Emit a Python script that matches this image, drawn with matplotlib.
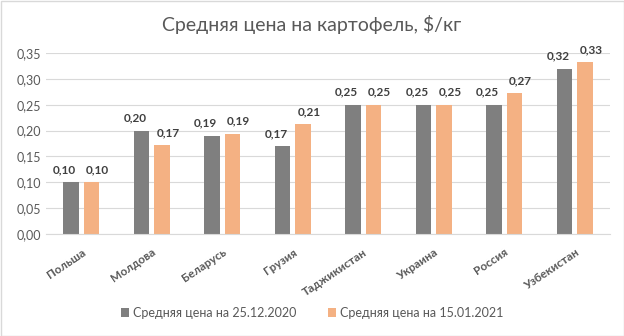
import matplotlib
matplotlib.use("Agg")
import matplotlib.pyplot as plt
import numpy as np
from matplotlib.patches import Rectangle

plt.rcParams['font.family'] = ['Lato', 'DejaVu Sans']

categories = ["Польша", "Молдова", "Беларусь", "Грузия", "Таджикистан", "Украина", "Россия", "Узбекистан"]
series1 = [0.10, 0.20, 0.19, 0.17, 0.25, 0.25, 0.25, 0.32]
series2 = [0.10, 0.172, 0.194, 0.213, 0.25, 0.25, 0.272, 0.333]
label1 = "Средняя цена на 25.12.2020"
label2 = "Средняя цена на 15.01.2021"
yticks = [0.0, 0.05, 0.10, 0.15, 0.20, 0.25, 0.30, 0.35]
title = "Средняя цена на картофель, $/кг"

c1 = "#7f7f7f"
c2 = "#f4b183"
txt = "#595959"

fig = plt.figure(figsize=(6.24, 3.36), dpi=100)
ax = fig.add_axes([46/624, 1-234/336, (610-46)/624, (234-53)/336])

x = np.arange(len(categories))
w = 0.22
off = 0.145
b1 = ax.bar(x - off, series1, w, color=c1, label=label1)
b2 = ax.bar(x + off, series2, w, color=c2, label=label2)

for bars, vals, dx in ((b1, series1, -4.5), (b2, series2, 4.5)):
    for r, v in zip(bars, vals):
        ax.annotate(f"{v:.2f}".replace(".", ","), (r.get_x() + r.get_width()/2, v),
                    xytext=(dx, 5), textcoords="offset points", ha="center", va="bottom",
                    fontsize=8.5, fontweight="bold", color="#404040")

ax.set_xlim(-0.5, len(categories) - 0.5)
ax.set_ylim(0, 0.35)
ax.set_yticks(yticks)
ax.set_yticklabels([f"{t:.2f}".replace(".", ",") for t in yticks], fontsize=9, color=txt)
ax.set_xticks(x)
ax.set_xticklabels(categories, rotation=34, ha="right", rotation_mode="anchor",
                   fontsize=8.5, fontweight="bold", color=txt)
ax.tick_params(axis="both", length=0)
ax.tick_params(axis="x", pad=9)
ax.grid(axis="y", color="#d9d9d9", linewidth=0.8)
ax.set_axisbelow(True)
for s in ("top", "right", "left"):
    ax.spines[s].set_visible(False)
ax.spines["bottom"].set_color("#d9d9d9")

fig.text(0.5, 1 - 25/336, title, ha="center", va="center", fontsize=14, color=txt)

leg = fig.legend(handles=[b1, b2], labels=[label1, label2], loc="center",
                 bbox_to_anchor=(0.5, 1 - 313/336), ncol=2, frameon=False,
                 fontsize=9, handlelength=0.7, handleheight=0.7, handletextpad=0.3,
                 columnspacing=2.5, labelcolor=txt)

fig.patches.append(Rectangle((0.5/624, 0.5/336), 1 - 1/624, 1 - 1/336, transform=fig.transFigure,
                             fill=False, edgecolor="#d9d9d9", linewidth=1))

fig.savefig("out.png", dpi=100)
